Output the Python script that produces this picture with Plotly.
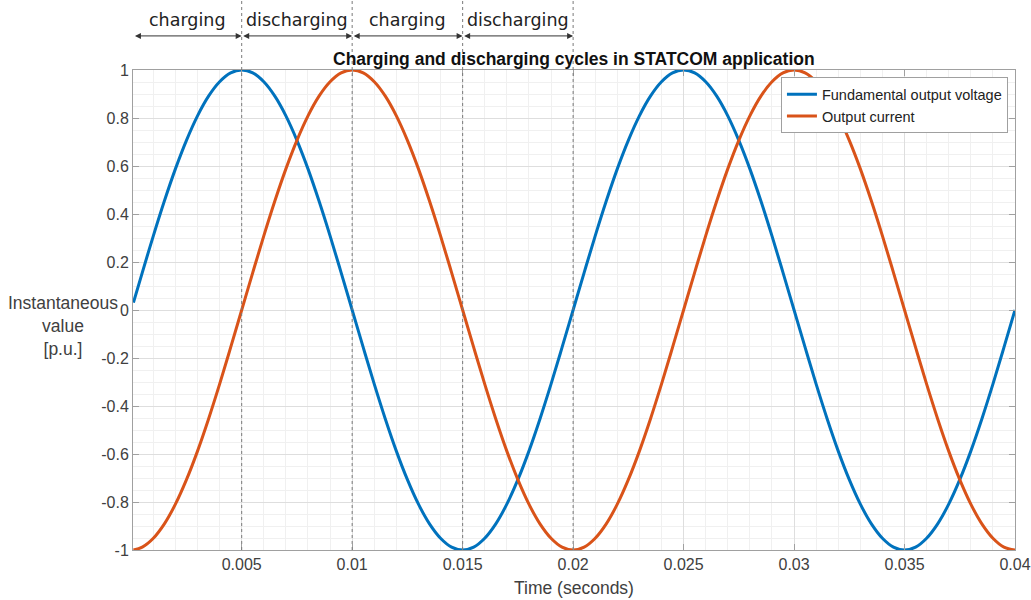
import plotly.graph_objects as go

# Sampled waveforms (time in seconds, values in p.u.)
time_s = [0.0001, 0.0005, 0.0010, 0.0015, 0.0020, 0.0025, 0.0030, 0.0035, 0.0040, 0.0045,
          0.0050, 0.0055, 0.0060, 0.0065, 0.0070, 0.0075, 0.0080, 0.0085, 0.0090, 0.0095,
          0.0100, 0.0105, 0.0110, 0.0115, 0.0120, 0.0125, 0.0130, 0.0135, 0.0140, 0.0145,
          0.0150, 0.0155, 0.0160, 0.0165, 0.0170, 0.0175, 0.0180, 0.0185, 0.0190, 0.0195,
          0.0200, 0.0205, 0.0210, 0.0215, 0.0220, 0.0225, 0.0230, 0.0235, 0.0240, 0.0245,
          0.0250, 0.0255, 0.0260, 0.0265, 0.0270, 0.0275, 0.0280, 0.0285, 0.0290, 0.0295,
          0.0300, 0.0305, 0.0310, 0.0315, 0.0320, 0.0325, 0.0330, 0.0335, 0.0340, 0.0345,
          0.0350, 0.0355, 0.0360, 0.0365, 0.0370, 0.0375, 0.0380, 0.0385, 0.0390, 0.0395,
          0.0400]

voltage = [0.031, 0.156, 0.309, 0.454, 0.588, 0.707, 0.809, 0.891, 0.951, 0.988,
           1.000, 0.988, 0.951, 0.891, 0.809, 0.707, 0.588, 0.454, 0.309, 0.156,
           0.000, -0.156, -0.309, -0.454, -0.588, -0.707, -0.809, -0.891, -0.951, -0.988,
           -1.000, -0.988, -0.951, -0.891, -0.809, -0.707, -0.588, -0.454, -0.309, -0.156,
           0.000, 0.156, 0.309, 0.454, 0.588, 0.707, 0.809, 0.891, 0.951, 0.988,
           1.000, 0.988, 0.951, 0.891, 0.809, 0.707, 0.588, 0.454, 0.309, 0.156,
           0.000, -0.156, -0.309, -0.454, -0.588, -0.707, -0.809, -0.891, -0.951, -0.988,
           -1.000, -0.988, -0.951, -0.891, -0.809, -0.707, -0.588, -0.454, -0.309, -0.156,
           0.000]

current = [-1.000, -0.988, -0.951, -0.891, -0.809, -0.707, -0.588, -0.454, -0.309, -0.156,
           0.000, 0.156, 0.309, 0.454, 0.588, 0.707, 0.809, 0.891, 0.951, 0.988,
           1.000, 0.988, 0.951, 0.891, 0.809, 0.707, 0.588, 0.454, 0.309, 0.156,
           0.000, -0.156, -0.309, -0.454, -0.588, -0.707, -0.809, -0.891, -0.951, -0.988,
           -1.000, -0.988, -0.951, -0.891, -0.809, -0.707, -0.588, -0.454, -0.309, -0.156,
           0.000, 0.156, 0.309, 0.454, 0.588, 0.707, 0.809, 0.891, 0.951, 0.988,
           1.000, 0.988, 0.951, 0.891, 0.809, 0.707, 0.588, 0.454, 0.309, 0.156,
           0.000, -0.156, -0.309, -0.454, -0.588, -0.707, -0.809, -0.891, -0.951, -0.988,
           -1.000]

x_tick_vals = [0.005, 0.01, 0.015, 0.02, 0.025, 0.03, 0.035, 0.04]
x_tick_text = ["0.005", "0.01", "0.015", "0.02", "0.025", "0.03", "0.035", "0.04"]
y_tick_vals = [1, 0.8, 0.6, 0.4, 0.2, 0, -0.2, -0.4, -0.6, -0.8, -1]
y_tick_text = ["1", "0.8", "0.6", "0.4", "0.2", "0", "-0.2", "-0.4", "-0.6", "-0.8", "-1"]

# Cycle phases shown above the axes
phase_labels = ["charging", "discharging", "charging", "discharging"]
phase_start = [0.0001, 0.005, 0.010, 0.015]
phase_end = [0.005, 0.010, 0.015, 0.020]
phase_bounds = [0.005, 0.010, 0.015, 0.020]

BLUE = "#0072BD"
ORANGE = "#D95319"
AXIS = "#a0a0a0"
TICKTXT = "#404040"
FONT = "Arial, Liberation Sans, Helvetica, sans-serif"

fig = go.Figure()
fig.add_trace(go.Scatter(x=time_s, y=voltage, mode="lines",
                         name="Fundamental output voltage",
                         line=dict(color=BLUE, width=3, shape="spline", smoothing=1.0)))
fig.add_trace(go.Scatter(x=time_s, y=current, mode="lines",
                         name="Output current",
                         line=dict(color=ORANGE, width=3, shape="spline", smoothing=1.0)))

# Dotted phase boundaries, extending above the plot area
for xb in phase_bounds:
    fig.add_shape(type="line", xref="x", yref="paper", x0=xb, x1=xb, y0=0, y1=1.146,
                  line=dict(color="#7a7a7a", width=1, dash="dot"), layer="above")

# Double-headed arrows and phase names
for lab, xs, xe in zip(phase_labels, phase_start, phase_end):
    fig.add_annotation(x=xe, y=1.071, xref="x", yref="paper",
                       ax=xs, ay=0, axref="x", ayref="pixel",
                       text="", showarrow=True, arrowside="end+start",
                       arrowhead=2, arrowsize=1.2, arrowwidth=1, arrowcolor="#333333",
                       standoff=0, startstandoff=0)
    fig.add_annotation(x=(xs + xe) / 2, y=1.104, xref="x", yref="paper",
                       text=lab, showarrow=False, xanchor="center", yanchor="middle",
                       font=dict(family="DejaVu Sans, Verdana, sans-serif", size=17.5,
                                 color="#222222"))

# Title
fig.add_annotation(x=0.5, y=1.023, xref="paper", yref="paper",
                   text="<b>Charging and discharging cycles in STATCOM application</b>",
                   showarrow=False, xanchor="center", yanchor="middle",
                   font=dict(family=FONT, size=17.5, color="#111111"))

# Axis titles
fig.add_annotation(x=-0.0794, y=0.4667, xref="paper", yref="paper",
                   text="Instantaneous<br>value<br>[p.u.]", showarrow=False,
                   xanchor="center", yanchor="middle", align="center",
                   font=dict(family=FONT, size=17.5, color=TICKTXT))
fig.add_annotation(x=0.5, y=-0.079, xref="paper", yref="paper",
                   text="Time (seconds)", showarrow=False,
                   xanchor="center", yanchor="middle",
                   font=dict(family=FONT, size=17.5, color=TICKTXT))

fig.update_xaxes(range=[0.00008, 0.04], tickvals=x_tick_vals, ticktext=x_tick_text,
                 automargin=False,
                 showline=True, linecolor=AXIS, linewidth=1, mirror="ticks",
                 ticks="inside", ticklen=6, tickcolor=AXIS,
                 showgrid=True, gridcolor="#dedede", gridwidth=1, zeroline=False,
                 tickfont=dict(family=FONT, size=16, color=TICKTXT),
                 minor=dict(dtick=0.001, tick0=0, showgrid=True, gridcolor="#f0f0f0",
                            gridwidth=1, ticks=""))
fig.update_yaxes(range=[-1, 1], tickvals=y_tick_vals, ticktext=y_tick_text,
                 automargin=False,
                 showline=True, linecolor=AXIS, linewidth=1, mirror="ticks",
                 ticks="inside", ticklen=6, tickcolor=AXIS,
                 showgrid=True, gridcolor="#dedede", gridwidth=1, zeroline=False,
                 tickfont=dict(family=FONT, size=16, color=TICKTXT),
                 minor=dict(dtick=0.05, tick0=0, showgrid=True, gridcolor="#f0f0f0",
                            gridwidth=1, ticks=""))

fig.update_layout(
    width=1031, height=600,
    margin=dict(l=133, r=16, t=70, b=50),
    paper_bgcolor="white", plot_bgcolor="white",
    showlegend=True,
    legend=dict(x=0.992, y=0.985, xanchor="right", yanchor="top",
                bgcolor="white", bordercolor="#a0a0a0", borderwidth=1,
                font=dict(family=FONT, size=14.5, color="#222222"),
                itemwidth=30, tracegroupgap=0),
)

fig.write_html("out.html")
